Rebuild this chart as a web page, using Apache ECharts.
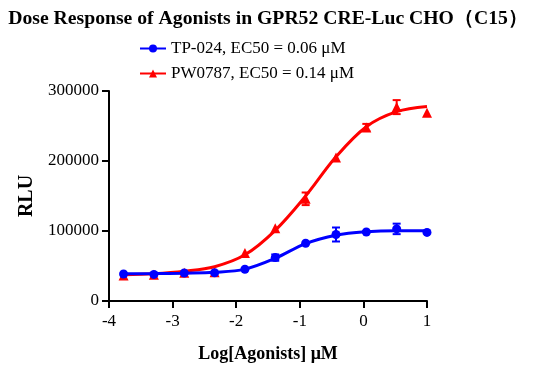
<!DOCTYPE html>
<html><head><meta charset="utf-8">
<script src="https://cdn.jsdelivr.net/npm/echarts@6/dist/echarts.min.js"></script>
<style>html,body{margin:0;padding:0;background:#fff}#c{width:536px;height:370px}</style>
</head><body><div id="c"></div>
<script>
// log10 concentration (µM)
const logConc = [-3.771, -3.294, -2.817, -2.340, -1.863, -1.386, -0.908, -0.431, 0.046, 0.523, 1.0];
// TP-024 mean RLU and SEM
const tp024 = [38600, 38000, 40000, 40400, 45300, 62000, 82500, 95000, 98500, 103000, 98000];
const tp024Err = [0, 0, 0, 0, 0, 4500, 0, 10000, 0, 7500, 0];
// PW0787 mean RLU and SEM
const pw0787 = [36500, 37500, 40500, 41000, 68500, 104000, 146000, 205000, 248000, 277000, 269000];
const pw0787Err = [0, 0, 0, 0, 0, 0, 9000, 0, 5000, 10000, 0];
// fitted curves
const tp024Fit = [39000, 39200, 39800, 41000, 45500, 61000, 82000, 94000, 99000, 100500, 100500];
const pw0787Fit = [37500, 39000, 42500, 49000, 66000, 101000, 150000, 206000, 249000, 270500, 278000];
const xTicks = [-4, -3, -2, -1, 0, 1];
const yTicks = [0, 100000, 200000, 300000];
const nameTP = 'TP-024, EC50 = 0.06 μM';
const namePW = 'PW0787, EC50 = 0.14 μM';

const zip = (xs, ys) => xs.map((x, i) => [x, ys[i]]);
const zip3 = (xs, ys, es) => xs.map((x, i) => [x, ys[i], es[i]]);
const FONT = 'Liberation Serif';

function errBar(color) {
  return function (params, api) {
    const x = api.value(0), y = api.value(1), e = api.value(2);
    if (!e) return null;
    const hi = api.coord([x, y + e]);
    const lo = api.coord([x, y - e]);
    const w = 4;
    const st = { stroke: color, lineWidth: 2 };
    return { type: 'group', children: [
      { type: 'line', shape: { x1: hi[0], y1: hi[1], x2: lo[0], y2: lo[1] }, style: st },
      { type: 'line', shape: { x1: hi[0] - w, y1: hi[1], x2: hi[0] + w, y2: hi[1] }, style: st },
      { type: 'line', shape: { x1: lo[0] - w, y1: lo[1], x2: lo[0] + w, y2: lo[1] }, style: st }
    ]};
  };
}

const chart = echarts.init(document.getElementById('c'), null, { renderer: 'canvas' });
chart.setOption({
  animation: false,
  backgroundColor: '#fff',
  title: {
    text: 'Dose Response of Agonists in GPR52 CRE-Luc CHO（C15）',
    left: 'center', top: 4,
    textStyle: { fontFamily: FONT, fontWeight: 'bold', fontSize: 19.7, color: '#000' }
  },
  legend: {
    orient: 'vertical', left: 134, top: 35, itemGap: 8,
    itemWidth: 26, itemHeight: 10,
    data: [nameTP, namePW],
    textStyle: { fontFamily: FONT, fontSize: 17, color: '#000' }
  },
  grid: { left: 109, right: 109, top: 91, bottom: 69 },
  xAxis: {
    type: 'value', min: -4, max: 1, interval: 1,
    name: 'Log[Agonists] μM', nameLocation: 'middle', nameGap: 44,
    nameTextStyle: { fontFamily: FONT, fontWeight: 'bold', fontSize: 18, color: '#000' },
    axisLine: { onZero: false, lineStyle: { color: '#000', width: 2 } },
    axisTick: { length: 7, lineStyle: { color: '#000', width: 2 } },
    axisLabel: { fontFamily: FONT, fontSize: 17, color: '#000', margin: 12 },
    splitLine: { show: false }
  },
  yAxis: {
    type: 'value', min: 0, max: 300000, interval: 100000,
    name: 'RLU', nameLocation: 'middle', nameGap: 66,
    nameTextStyle: { fontFamily: FONT, fontWeight: 'bold', fontSize: 20, color: '#000' },
    axisLine: { show: true, onZero: false, lineStyle: { color: '#000', width: 2 } },
    axisTick: { show: true, length: 7, lineStyle: { color: '#000', width: 2 } },
    axisLabel: { fontFamily: FONT, fontSize: 17, color: '#000', margin: 10,
      formatter: v => String(v) },
    splitLine: { show: false }
  },
  series: [
    { name: namePW, type: 'line', data: zip(logConc, pw0787Fit), smooth: 0.35,
      symbol: 'triangle', symbolSize: 10, showSymbol: false,
      lineStyle: { color: '#ff0000', width: 3 }, itemStyle: { color: '#ff0000' }, z: 2 },
    { name: namePW, type: 'custom', data: zip3(logConc, pw0787, pw0787Err),
      renderItem: errBar('#ff0000'), z: 3 },
    { name: namePW, type: 'scatter', data: zip(logConc, pw0787), symbol: 'triangle', symbolSize: 10,
      itemStyle: { color: '#ff0000', opacity: 1 }, z: 3 },
    { name: nameTP, type: 'line', data: zip(logConc, tp024Fit), smooth: 0.35,
      symbol: 'circle', symbolSize: 9, showSymbol: false,
      lineStyle: { color: '#0000ff', width: 3 }, itemStyle: { color: '#0000ff' }, z: 4 },
    { name: nameTP, type: 'custom', data: zip3(logConc, tp024, tp024Err),
      renderItem: errBar('#0000ff'), z: 5 },
    { name: nameTP, type: 'scatter', data: zip(logConc, tp024), symbol: 'circle', symbolSize: 9,
      itemStyle: { color: '#0000ff', opacity: 1 }, z: 5 }
  ]
});
</script>
</body></html>
